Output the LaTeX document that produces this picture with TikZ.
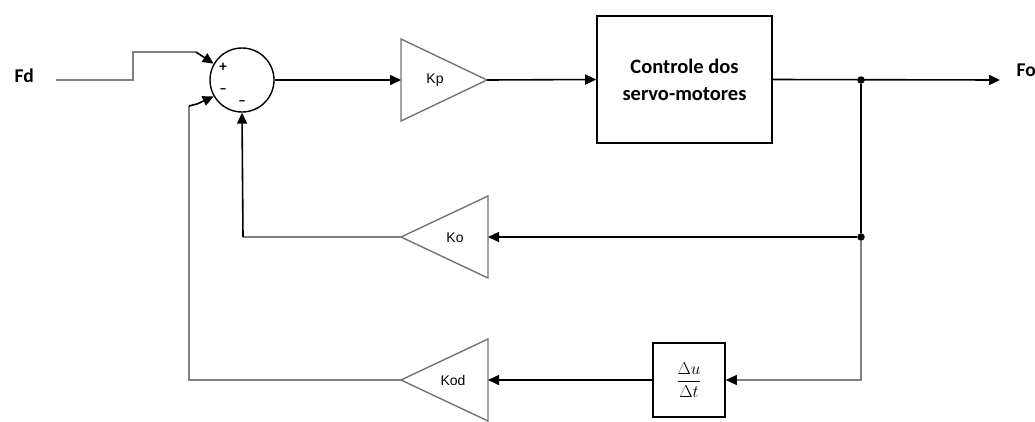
\documentclass[tikz,border=0pt]{standalone}
\usepackage{fontspec}
\setmainfont{Carlito}
\newfontfamily\arialf{Liberation Sans}
\usetikzlibrary{arrows.meta}
\begin{document}
\begin{tikzpicture}[x=1pt,y=-1pt,
  wire/.style={line width=1.6pt, black},
  gwire/.style={line width=1.5pt, black!50},
  arr/.style={-{Triangle[length=11pt,width=10pt,color=black]}},
  gain/.style={draw=black!55, line width=1.4pt, line join=miter},
  gtext/.style={font=\arialf\fontsize{14}{14}\selectfont},
  sign/.style={font=\fontsize{15}{15}\selectfont\bfseries, inner sep=0},
  dot/.style={circle, fill=black, inner sep=0, minimum size=7.5pt}]
\useasboundingbox (0,0) rectangle (1035,421);

% labels
\node[font=\fontsize{19.5}{20}\selectfont\bfseries, anchor=base west] (fd) at (11,82) {Fd};
\node[font=\fontsize{19.5}{20}\selectfont\bfseries, anchor=base west] (fo) at (1013,76) {Fo};

% summing junction
\node[circle, draw, line width=1.4pt, minimum size=64pt, inner sep=0] (sum) at (242,80) {};
\node[sign] (sp) at (223,67) {+};
\node[sign] (sm1) at (223,91) {--};
\node[sign] (sm2) at (242,103) {--};

% gains (triangles)
\coordinate (kpL) at (401,80);  \coordinate (kpR) at (487,80);
\coordinate (koL) at (401,237); \coordinate (koR) at (488,237);
\coordinate (kodL) at (401,380); \coordinate (kodR) at (488,380);
\draw[gain] (kpL |- 0,39) -- (kpR) -- (kpL |- 0,121) -- cycle;
\draw[gain] (koR |- 0,196) -- (koL) -- (koR |- 0,278) -- cycle;
\draw[gain] (kodR |- 0,339) -- (kodL) -- (kodR |- 0,421) -- cycle;
\node[gtext] (kp) at (435,80) {Kp};
\node[gtext] (ko) at (455,238) {Ko};
\node[gtext] (kod) at (453,380) {Kod};

% blocks
\node[draw, line width=1.6pt, minimum width=175pt, minimum height=127pt, align=center,
      font=\fontsize{20.5}{27}\selectfont\bfseries] (box) at (684.5,79.5) {Controle dos\\servo-motores};
\node[draw, line width=1.6pt, minimum width=72pt, minimum height=74pt, inner sep=0,
      font=\fontsize{16}{16}\selectfont] (dt) at (689,380) {$\displaystyle\frac{\Delta u}{\Delta t}$};

% junction dots
\node[dot] (d1) at (861,80) {};
\node[dot] (d2) at (861,237) {};
\coordinate (foin) at (1000,80);
\coordinate (fdout) at (56,80);

% connectors
\draw[gwire] (fdout) -- (133,80) -- (133,52) -- (196,52);
\draw[wire,arr] (196,52) -- (sum.150);
\draw[gwire] (kodL) -- (189,380) -- (189,106);
\draw[wire,arr] (189,106) -- (197,104) -- (sum.210);
\draw[gwire] (koL) -- (243,237);
\draw[wire,arr] (243,237) -- (sum.south);
\draw[wire,arr] (sum.east) -- (kpL);
\draw[wire,arr] (kpR) -- (box.west);
\draw[wire,arr] (box.east) -- (foin);
\draw[wire] (d1) -- (d2);
\draw[wire,arr] (d2) -- (koR);
\draw[gwire,arr] (d2) |- (dt.east);
\draw[wire,arr] (dt.west) -- (kodR);
\end{tikzpicture}
\end{document}
